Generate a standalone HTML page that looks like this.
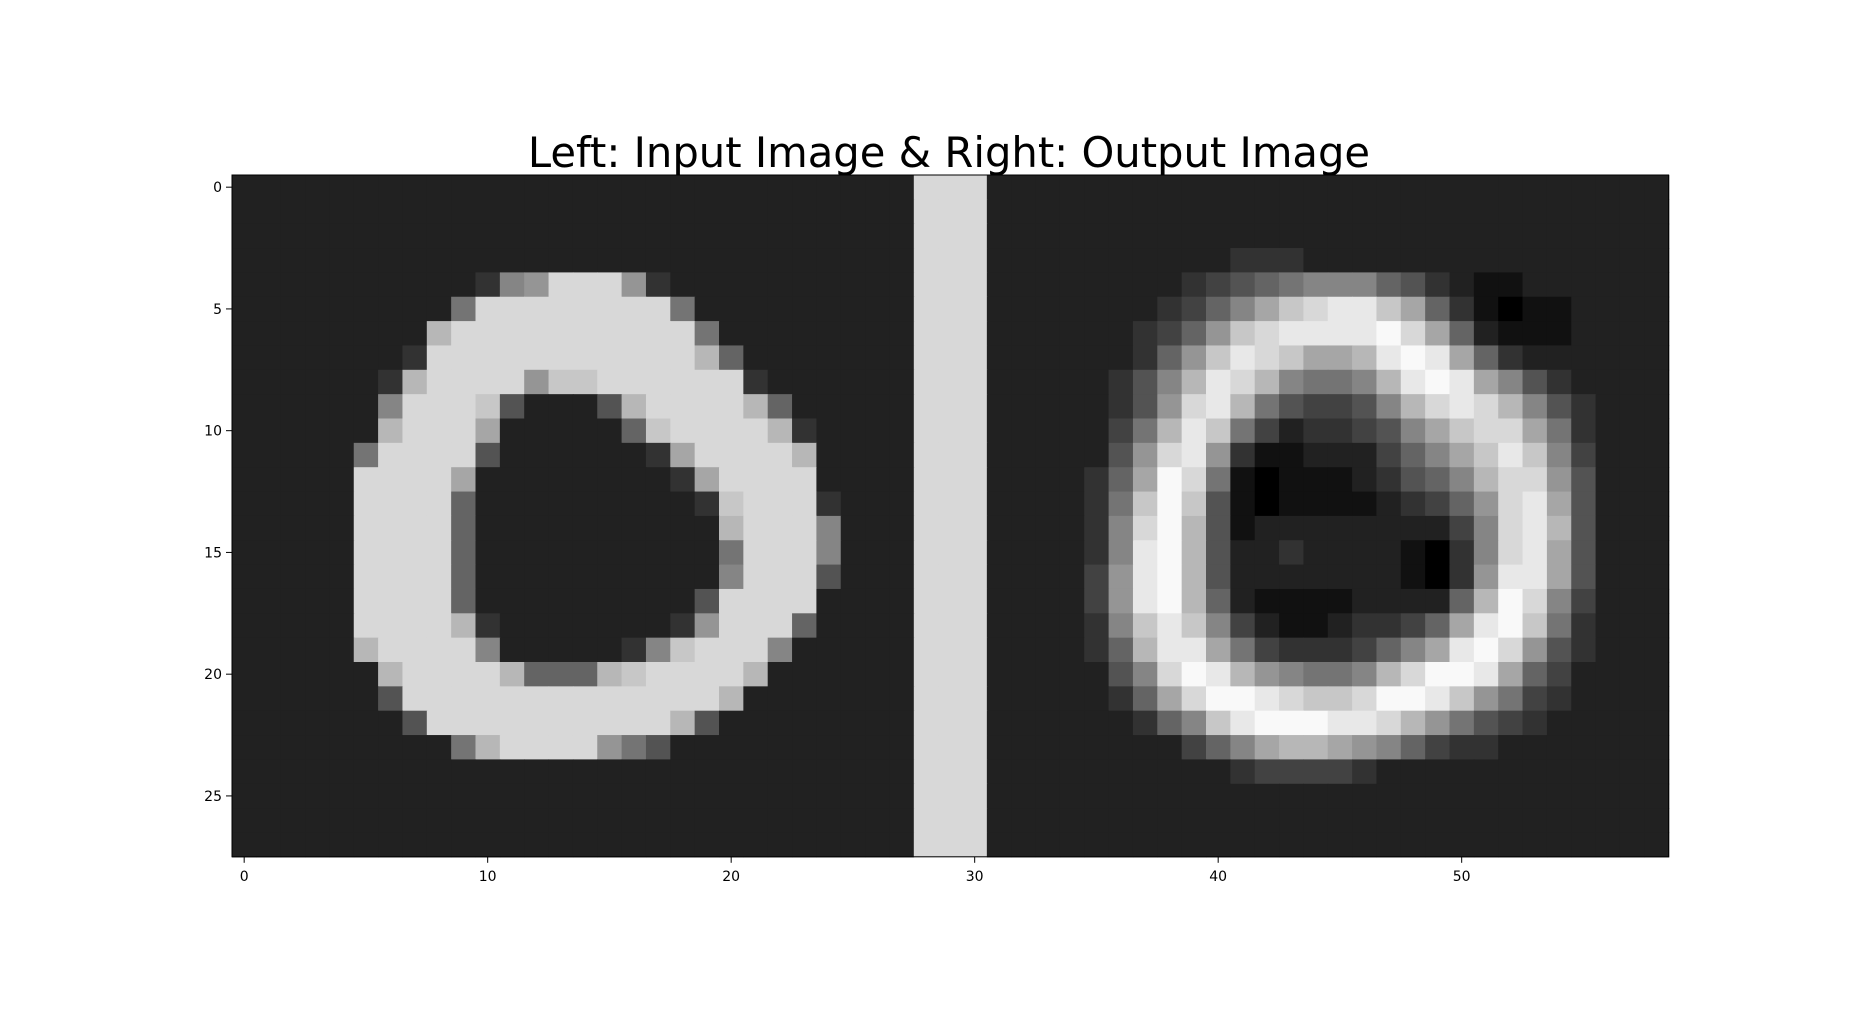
<!DOCTYPE html>
<html><head><meta charset="utf-8">
<style>
html,body{margin:0;padding:0;background:#fff;}
svg{display:block;font-family:"DejaVu Sans","Liberation Sans",sans-serif;}
</style></head>
<body>
<svg id="chart" width="1855" height="1022" viewBox="0 0 1855 1022" xmlns="http://www.w3.org/2000/svg">
<rect width="1855" height="1022" fill="#fff"/>
<text x="949" y="167" font-size="41.7" text-anchor="middle" fill="#000">Left: Input Image &amp; Right: Output Image</text>
<g id="cells"></g>
<g id="axes"></g>
</svg>
<script>
// intensity per pixel, hex digit 0-f (brightness = v*17)
const leftRows = [
"2222222222222222222222222222",
"2222222222222222222222222222",
"2222222222222222222222222222",
"2222222222222222222222222222",
"2222222222389ddd932222222222",
"2222222227dddddddd7222222222",
"22222222bdddddddddd722222222",
"22222223dddddddddddb62222222",
"2222223bdddd9ccdddddd3222222",
"2222228dddc52225bddddb622222",
"222222bddda222226cddddb32222",
"222227dddd52222223addddb2222",
"22222dddda222222223adddd2222",
"22222dddd62222222223cddd3222",
"22222dddd62222222222bddd8222",
"22222dddd622222222227ddd8222",
"22222dddd622222222228ddd5222",
"22222dddd62222222225dddd2222",
"22222ddddb3222222239ddd62222",
"22222bdddd82222238cddd822222",
"222222bddddb666bcddddb222222",
"2222225dddddddddddddb2222222",
"22222225ddddddddddb522222222",
"2222222227bdddd9752222222222",
"2222222222222222222222222222",
"2222222222222222222222222222",
"2222222222222222222222222222",
"2222222222222222222222222222"
];
const rightRows = [
"2222222222222222222222222222",
"2222222222222222222222222222",
"2222222222222222222222222222",
"2222222222333222222222222222",
"2222222234567888653211222222",
"22222223468acdeeca6310112222",
"2222223469cdeeeefda621112222",
"222222369cedcaabefea63222222",
"22222358bedb8778befea8532222",
"22222359deb754458bdedb853222",
"2222247bec74233458acdda73222",
"2222259de9311222468acec84222",
"222236afd71011123568bdd95222",
"222237cfc510111123469dea5222",
"222238dfb512222222248deb5222",
"222238efb522322221038dea5222",
"222249efb522222221039eea5222",
"222249efb62111122226bfd84222",
"222238cec8421123346aefc73222",
"222236beea74333468aefd953222",
"2222258dfeb98778bdffea642222",
"2222236adffedccdffec97432222",
"222222368cefffeedb9754322222",
"22222222468abba9864332222222",
"2222222222344443222222222222",
"2222222222222222222222222222",
"2222222222222222222222222222",
"2222222222222222222222222222"
];
const separatorValue = "ddd";
const xTicks = [0,10,20,30,40,50];
const yTicks = [0,5,10,15,20,25];

const X0 = 232, Y0 = 175, CW = 24.35, CH = 24.35;
const NCOL = 59, NROW = 28;
function xs(c){ return X0 + c*CW; }
function ys(r){ return Y0 + r*CH; }
function gray(ch){ const n = parseInt(ch,16); const v = Math.min(255, Math.round((isNaN(n)?2:n)*16.6)); return "rgb("+v+","+v+","+v+")"; }
function fixRow(s){ s = s.replace(/\s/g,""); if(s.length<28) s = s.padEnd(28,"2"); return s.slice(0,28); }

const NS = "http://www.w3.org/2000/svg";
const cells = document.getElementById("cells");
for(let r=0;r<NROW;r++){
  const row = fixRow(leftRows[r]) + separatorValue + fixRow(rightRows[r]);
  for(let c=0;c<NCOL;c++){
    const el = document.createElementNS(NS,"rect");
    el.setAttribute("x", xs(c)); el.setAttribute("y", ys(r));
    el.setAttribute("width", CW+0.6); el.setAttribute("height", CH+0.6);
    el.setAttribute("fill", gray(row[c]));
    
    
    cells.appendChild(el);
  }
}
const axes = document.getElementById("axes");
const frame = document.createElementNS(NS,"rect");
frame.setAttribute("x", X0); frame.setAttribute("y", Y0);
frame.setAttribute("width", NCOL*CW); frame.setAttribute("height", NROW*CH);
frame.setAttribute("fill","none"); frame.setAttribute("stroke","#000"); frame.setAttribute("stroke-width","1");


axes.appendChild(frame);
const yB = Y0 + NROW*CH;
xTicks.forEach(t=>{
  const x = xs(t+0.5);
  const ln = document.createElementNS(NS,"line");
  ln.setAttribute("x1",x); ln.setAttribute("x2",x); ln.setAttribute("y1",yB); ln.setAttribute("y2",yB+6);
  ln.setAttribute("stroke","#000");
  
  
  axes.appendChild(ln);
  const tx = document.createElementNS(NS,"text");
  tx.setAttribute("x",x); tx.setAttribute("y",yB+24); tx.setAttribute("font-size","14");
  tx.setAttribute("text-anchor","middle"); tx.textContent = t;
  
  
  axes.appendChild(tx);
});
yTicks.forEach(t=>{
  const y = ys(t+0.5);
  const ln = document.createElementNS(NS,"line");
  ln.setAttribute("x1",X0-6); ln.setAttribute("x2",X0); ln.setAttribute("y1",y); ln.setAttribute("y2",y);
  ln.setAttribute("stroke","#000");
  
  
  axes.appendChild(ln);
  const tx = document.createElementNS(NS,"text");
  tx.setAttribute("x",X0-10); tx.setAttribute("y",y+5); tx.setAttribute("font-size","14");
  tx.setAttribute("text-anchor","end"); tx.textContent = t;
  
  
  axes.appendChild(tx);
});
</script>
</body></html>
